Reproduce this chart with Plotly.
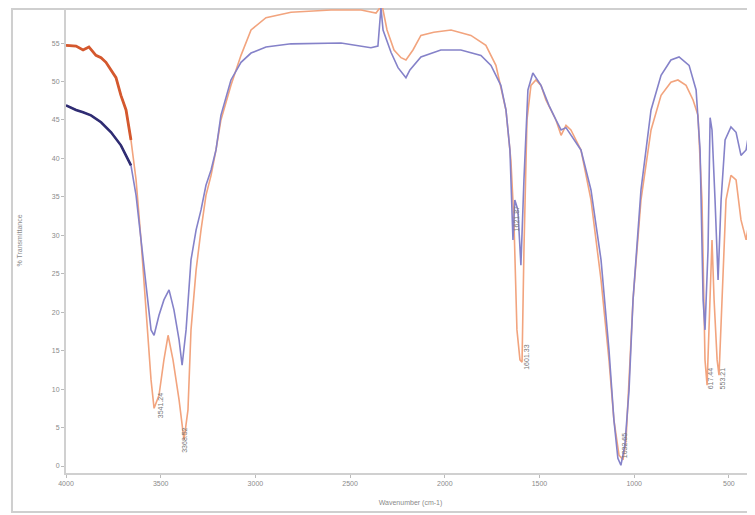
import plotly.graph_objects as go

# Sample A (orange)
wn_orange = [4000, 3947, 3910, 3879, 3842, 3815, 3789, 3762, 3736, 3710, 3683, 3657, 3630, 3604, 3578,
             3551, 3535, 3509, 3483, 3461, 3435, 3403, 3377, 3356, 3340, 3313, 3287, 3261, 3234, 3208,
             3182, 3129, 3076, 3023, 2944, 2812, 2601, 2442, 2363, 2342, 2337, 2326, 2305, 2268, 2231,
             2205, 2168, 2126, 2058, 1967, 1862, 1783, 1730, 1677, 1651, 1635, 1619, 1603, 1592, 1582,
             1566, 1545, 1519, 1492, 1466, 1439, 1413, 1386, 1360, 1334, 1307, 1281, 1228, 1175, 1133,
             1107, 1080, 1059, 1043, 1027, 1006, 964, 911, 858, 806, 769, 726, 689, 663, 642, 626, 615,
             599, 589, 578, 562, 552, 536, 515, 489, 462, 436, 409, 383, 357]
t_orange = [54.7, 54.6, 54.1, 54.5, 53.4, 53.1, 52.5, 51.5, 50.5, 48.2, 46.3, 42.4, 37.2, 29.4, 20.3,
            11.2, 7.5, 9.2, 13.8, 17.0, 13.8, 8.6, 3.4, 7.3, 17.7, 25.5, 30.7, 35.2, 37.8, 41.1,
            45.0, 49.5, 53.4, 56.7, 58.3, 59.0, 59.3, 59.3, 58.9, 59.6, 61.0, 59.3, 56.7, 54.1, 53.1,
            52.8, 54.1, 56.0, 56.4, 56.7, 56.0, 54.7, 52.1, 46.3, 39.8, 32.0, 17.7, 13.8, 13.5, 28.1,
            45.0, 49.5, 50.2, 49.5, 47.6, 46.3, 45.0, 43.0, 44.3, 43.7, 42.4, 41.1, 34.6, 24.2, 13.8,
            6.0, 1.4, 0.8, 3.4, 11.2, 21.6, 34.6, 43.7, 48.2, 49.9, 50.2, 49.5, 47.6, 45.6, 34.6, 13.8, 10.5,
            21.6, 29.4, 21.6, 13.8, 11.8, 21.6, 34.6, 37.8, 37.2, 32.0, 29.4, 33.3, 35.9]

# Sample B (blue)
wn_blue = [4000, 3947, 3910, 3868, 3815, 3762, 3710, 3657, 3630, 3604, 3578, 3551, 3535, 3509, 3483,
           3456, 3430, 3403, 3387, 3366, 3340, 3313, 3287, 3261, 3234, 3208, 3182, 3129, 3076, 3023,
           2944, 2812, 2548, 2390, 2353, 2337, 2326, 2284, 2247, 2205, 2184, 2126, 2021, 1915, 1809,
           1756, 1704, 1677, 1656, 1640, 1630, 1614, 1598, 1582, 1561, 1535, 1492, 1450, 1413, 1386,
           1360, 1334, 1281, 1228, 1175, 1133, 1107, 1086, 1070, 1049, 1027, 1006, 964, 911, 858, 806,
           763, 710, 673, 652, 636, 626, 610, 599, 589, 573, 557, 541, 520, 489, 462, 436, 409, 383, 357]
t_blue = [46.9, 46.3, 46.0, 45.6, 44.7, 43.4, 41.7, 39.1, 35.2, 29.4, 22.9, 17.7, 17.0, 19.6, 21.6,
          22.9, 20.3, 16.4, 13.1, 17.7, 26.8, 30.7, 33.3, 36.5, 38.5, 41.1, 45.6, 50.2, 52.5, 53.7,
          54.5, 54.9, 55.0, 54.4, 54.6, 59.6, 56.7, 53.8, 51.8, 50.5, 51.5, 53.2, 54.1, 54.1, 53.4,
          52.1, 49.5, 46.3, 41.1, 29.4, 34.6, 33.3, 26.1, 37.2, 48.9, 51.1, 49.5, 46.9, 45.0, 43.7,
          44.0, 43.0, 41.1, 35.9, 26.8, 15.1, 6.0, 1.0, 0.1, 2.7, 9.9, 21.6, 35.9, 46.3, 50.8, 52.8,
          53.2, 52.1, 48.9, 41.1, 21.6, 17.7, 28.1, 45.3, 43.7, 34.6, 24.2, 34.6, 42.4, 44.1, 43.4, 40.4, 41.1, 45.0, 48.2]

# Peak labels
peak_text = ["3541.24", "3368.52", "1621.87", "1601.33", "1032.65", "617.44", "553.21"]
peak_wn = [3504, 3372, 1624, 1566, 1054, 600, 536]
peak_t = [7.9, 3.4, 32.2, 14.2, 2.7, 11.4, 11.4]

x_ticks = [4000, 3500, 3000, 2500, 2000, 1500, 1000, 500]
y_ticks = [0, 5, 10, 15, 20, 25, 30, 35, 40, 45, 50, 55]

NOISY_LIMIT = 3650

fig = go.Figure()
fig.add_trace(go.Scatter(x=wn_orange, y=t_orange, mode="lines",
                         line=dict(color="#F2A47E", width=1.6), showlegend=False))
fig.add_trace(go.Scatter(x=wn_blue, y=t_blue, mode="lines",
                         line=dict(color="#8582C9", width=1.6), showlegend=False))
ox = [w for w in wn_orange if w >= NOISY_LIMIT]
oy = t_orange[:len(ox)]
bx = [w for w in wn_blue if w >= NOISY_LIMIT]
by = t_blue[:len(bx)]
fig.add_trace(go.Scatter(x=ox, y=oy, mode="lines",
                         line=dict(color="#D4582E", width=2.8), showlegend=False))
fig.add_trace(go.Scatter(x=bx, y=by, mode="lines",
                         line=dict(color="#2F2C72", width=2.6), showlegend=False))

for txt, xw, yt in zip(peak_text, peak_wn, peak_t):
    fig.add_annotation(x=xw, y=yt, text=txt, textangle=-90, showarrow=False,
                       font=dict(size=7, color="#777777", family="Arial"))

fig.add_shape(type="rect", xref="paper", yref="paper",
              x0=-0.0784, x1=0.9985, y0=-0.0839, y1=0.998,
              line=dict(color="#cfcfcf", width=2), fillcolor="rgba(0,0,0,0)", layer="below")

tick_font = dict(family="Arial", size=7, color="#8a8a8a")
fig.update_layout(
    width=755, height=515,
    margin=dict(l=58, r=8, t=0, b=50, autoexpand=False),
    paper_bgcolor="white", plot_bgcolor="white",
    font=dict(family="Arial", size=7, color="#8a8a8a"),
    xaxis=dict(range=[4000, 362], tickvals=x_ticks, ticktext=[str(v) for v in x_ticks],
               automargin=False, tickfont=tick_font,
               showgrid=False, zeroline=False, showline=True, linecolor="#d0d0d0", linewidth=2,
               ticks="outside", ticklen=3, tickcolor="#bbbbbb",
               title=dict(text="Wavenumber (cm-1)", font=tick_font, standoff=14)),
    yaxis=dict(range=[-0.91, 59.56], tickvals=y_ticks, ticktext=[str(v) for v in y_ticks],
               automargin=False, tickfont=tick_font,
               showgrid=False, zeroline=False, showline=True, linecolor="#d0d0d0", linewidth=2,
               ticks="outside", ticklen=3, tickcolor="#bbbbbb",
               title=dict(text="% Transmittance", font=tick_font, standoff=28)),
)

fig.write_html("out.html")
